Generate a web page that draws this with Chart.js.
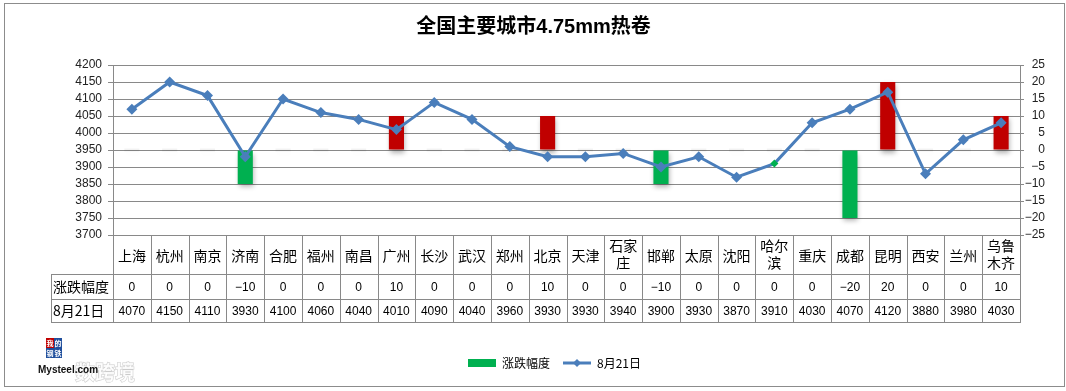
<!DOCTYPE html>
<html>
<head>
<meta charset="utf-8">
<script src="https://cdn.jsdelivr.net/npm/chart.js@4.4.1/dist/chart.umd.min.js"></script>
<style>
  html, body { margin: 0; padding: 0; background: #fff; }
  #wrap { width: 1066px; height: 391px; position: relative; }
</style>
</head>
<body>
<div id="wrap"><canvas id="c" width="1066" height="391"></canvas></div>
<script>
const cities = ['上海','杭州','南京','济南','合肥','福州','南昌','广州','长沙','武汉','郑州','北京',
                '天津','石家庄','邯郸','太原','沈阳','哈尔滨','重庆','成都','昆明','西安','兰州','乌鲁木齐'];
const change = [0, 0, 0, -10, 0, 0, 0, 10, 0, 0, 0, 10, 0, 0, -10, 0, 0, 0, 0, -20, 20, 0, 0, 10];
const price  = [4070, 4150, 4110, 3930, 4100, 4060, 4040, 4010, 4090, 4040, 3960, 3930,
                3930, 3940, 3900, 3930, 3870, 3910, 4030, 4070, 4120, 3880, 3980, 4030];
const priceTicks  = [3700, 4200, 50];   // min, max, step (left axis)
const changeTicks = [-25, 25, 5];       // min, max, step (right axis)
const seriesNames = ['涨跌幅度', '8月21日'];
const title = '全国主要城市4.75mm热卷';

const RED = '#C00000', GREEN = '#00B050', BLUE = '#4A7EBB', GRID = '#898989';
const SANS = "'Liberation Sans', 'Noto Sans CJK SC', sans-serif";
const CJK = "'Noto Sans CJK SC', sans-serif";

// wrap the long names over two lines like the excel data table does
const cityLabels = cities.map(c => c.length > 2 ? [c.slice(0, 2), c.slice(2)] : c);
const fmt = v => v < 0 ? '\u2212' + Math.abs(v) : String(v);

// small canvases used as legend symbols
function icon(w, h, draw) {
  const c = document.createElement('canvas');
  c.width = w; c.height = h;
  draw(c.getContext('2d'));
  return c;
}
const barIcon = icon(28, 8, g => { g.fillStyle = GREEN; g.fillRect(0, 0, 28, 8); });
const lineIcon = icon(28, 10, g => {
  g.strokeStyle = BLUE; g.lineWidth = 3;
  g.beginPath(); g.moveTo(0, 5); g.lineTo(28, 5); g.stroke();
  g.fillStyle = BLUE;
  g.beginPath(); g.moveTo(14, 1); g.lineTo(18, 5); g.lineTo(14, 9); g.lineTo(10, 5); g.closePath(); g.fill();
});

const px = v => Math.round(v) + 0.5;

// chart frame
const frame = {
  id: 'frame',
  beforeDraw(chart) {
    const ctx = chart.ctx;
    ctx.save();
    ctx.strokeStyle = '#8c8c8c';
    ctx.lineWidth = 1;
    ctx.strokeRect(4.5, 3.5, 1060, 383);
    ctx.restore();
  }
};

// soft shadow under the columns
const barShadow = {
  id: 'barShadow',
  beforeDatasetDraw(chart, args) {
    if (args.index !== 0) return;
    const ctx = chart.ctx;
    ctx.save();
    ctx.shadowColor = 'rgba(0,0,0,0.3)';
    ctx.shadowBlur = 5;
    ctx.shadowOffsetX = 1;
    ctx.shadowOffsetY = 3;
  },
  afterDatasetDraw(chart, args) {
    if (args.index === 0) chart.ctx.restore();
  }
};

// excel style data table under the plot
const dataTable = {
  id: 'dataTable',
  afterDraw(chart) {
    const { ctx, chartArea: a, scales: { x } } = chart;
    const n = cities.length;
    const w = (a.right - a.left) / n;
    const y0 = a.bottom, y1 = y0 + 39, y2 = y1 + 25, y3 = y2 + 23;
    const hx = a.left - 62;

    ctx.save();
    ctx.strokeStyle = GRID;
    ctx.lineWidth = 1;
    ctx.beginPath();
    [y1, y2, y3].forEach(y => { ctx.moveTo(hx, px(y)); ctx.lineTo(a.right + 1, px(y)); });
    for (let i = 0; i <= n; i++) {
      const xx = px(a.left + i * w);
      ctx.moveTo(xx, y0); ctx.lineTo(xx, px(y3));
    }
    ctx.moveTo(px(hx), px(y1)); ctx.lineTo(px(hx), px(y3));
    ctx.stroke();

    ctx.fillStyle = '#000';
    ctx.textBaseline = 'middle';

    // row headers
    ctx.textAlign = 'left';
    ctx.font = '14px ' + CJK;
    ctx.fillText(seriesNames[0], hx + 2, (y1 + y2) / 2);
    ctx.fillText(seriesNames[1], hx + 2, (y2 + y3) / 2);

    // category names
    ctx.textAlign = 'center';
    cityLabels.forEach((lab, i) => {
      const cx = x.getPixelForValue(i);
      const lines = Array.isArray(lab) ? lab : [lab];
      const ys = lines.length === 1 ? [y0 + 21] : [y0 + 11, y0 + 28];
      lines.forEach((t, k) => ctx.fillText(t, cx, ys[k]));
    });

    // values
    ctx.font = '12px ' + SANS;
    change.forEach((v, i) => ctx.fillText(fmt(v), x.getPixelForValue(i), (y1 + y2) / 2 + 1));
    price.forEach((v, i) => ctx.fillText(String(v), x.getPixelForValue(i), (y2 + y3) / 2 + 1));
    ctx.restore();
  }
};

// mysteel logo in the corner
const logo = {
  id: 'logo',
  afterDraw(chart) {
    const ctx = chart.ctx;
    ctx.save();
    ctx.font = 'bold 20px ' + CJK;
    ctx.textBaseline = 'middle';
    ctx.fillStyle = 'rgba(255,255,255,0.8)';
    ctx.strokeStyle = 'rgba(160,160,160,0.55)';
    ctx.lineWidth = 1;
    ctx.strokeText('数跨境', 75, 372);
    ctx.fillText('数跨境', 75, 372);
    const boxes = [[46, 338, RED, '我'], [54, 338, '#1F4E9C', '的'], [46, 348, '#1F4E9C', '钢'], [54, 348, '#1F4E9C', '铁']];
    ctx.font = 'bold 7px ' + CJK;
    ctx.textAlign = 'center';
    boxes.forEach(([bx, by, col, ch]) => {
      ctx.fillStyle = col; ctx.fillRect(bx, by, 8, 10);
      ctx.fillStyle = '#fff'; ctx.fillText(ch, bx + 4, by + 5);
    });
    ctx.textAlign = 'left';
    ctx.fillStyle = '#111';
    ctx.font = 'bold 10px ' + SANS;
    ctx.fillText('Mysteel.com', 38, 370);
    ctx.restore();
  }
};

// excel puts the legend a bit right of centre
const legendPlace = {
  id: 'legendPlace',
  afterLayout(chart) {
    const lg = chart.legend;
    const w = lg.right - lg.left;
    lg.left = 455;
    lg.right = 455 + w;
  }
};

const plainTick = v => v < 0 ? '\u2212' + Math.abs(v) : String(v);

const chart = new Chart(document.getElementById('c'), {
  data: {
    labels: cityLabels,
    datasets: [{
      type: 'bar',
      label: seriesNames[0],
      data: change,
      yAxisID: 'y1',
      order: 1,
      backgroundColor: c => c.raw === undefined ? GREEN : c.raw > 0 ? RED : c.raw < 0 ? GREEN : 'rgba(0,0,0,0.05)',
      barPercentage: 0.4,
      categoryPercentage: 1,
      minBarLength: 3
    }, {
      type: 'line',
      label: seriesNames[1],
      data: price,
      yAxisID: 'y',
      order: 0,
      borderColor: BLUE,
      borderWidth: 3,
      tension: 0,
      pointStyle: 'rectRot',
      pointRadius: c => cities[c.dataIndex] === '哈尔滨' ? 4 : 5.5,
      pointBackgroundColor: c => cities[c.dataIndex] === '哈尔滨' ? GREEN : BLUE,
      pointBorderWidth: 0
    }]
  },
  options: {
    responsive: false,
    animation: false,
    layout: { padding: { left: 22, right: 21, top: 4, bottom: 12 } },
    plugins: {
      title: {
        display: true,
        text: title,
        color: '#000',
        font: { size: 20, weight: 'bold', family: SANS },
        padding: { top: 11, bottom: 26 }
      },
      legend: {
        position: 'bottom',
        align: 'start',
        labels: {
          usePointStyle: true,
          pointStyleWidth: 28,
          padding: 13,
          color: '#000',
          font: { size: 12, family: CJK },
          sort: (a, b) => a.datasetIndex - b.datasetIndex,
          generateLabels: ch => Chart.defaults.plugins.legend.labels.generateLabels(ch)
            .map(l => Object.assign(l, { pointStyle: l.datasetIndex === 0 ? barIcon : lineIcon }))
        }
      },
      tooltip: { enabled: false }
    },
    scales: {
      x: {
        ticks: { display: false },
        grid: { display: false },
        border: { display: false },
        afterFit: s => { s.height = 109; }
      },
      y: {
        position: 'left',
        min: priceTicks[0], max: priceTicks[1],
        ticks: { stepSize: priceTicks[2], autoSkip: false, callback: plainTick, padding: 6, color: '#222', font: { size: 12, family: SANS } },
        grid: { color: GRID, tickLength: 5 },
        border: { color: GRID },
        afterFit: s => { s.width = 91; }
      },
      y1: {
        position: 'right',
        min: changeTicks[0], max: changeTicks[1],
        ticks: { stepSize: changeTicks[2], autoSkip: false, callback: plainTick, padding: 3, crossAlign: 'far', color: '#222', font: { size: 12, family: SANS } },
        grid: { drawOnChartArea: false, color: GRID, tickLength: 4 },
        border: { color: GRID },
        afterFit: s => { s.width = 25; }
      }
    }
  },
  plugins: [frame, barShadow, dataTable, logo, legendPlace]
});
</script>
</body>
</html>
